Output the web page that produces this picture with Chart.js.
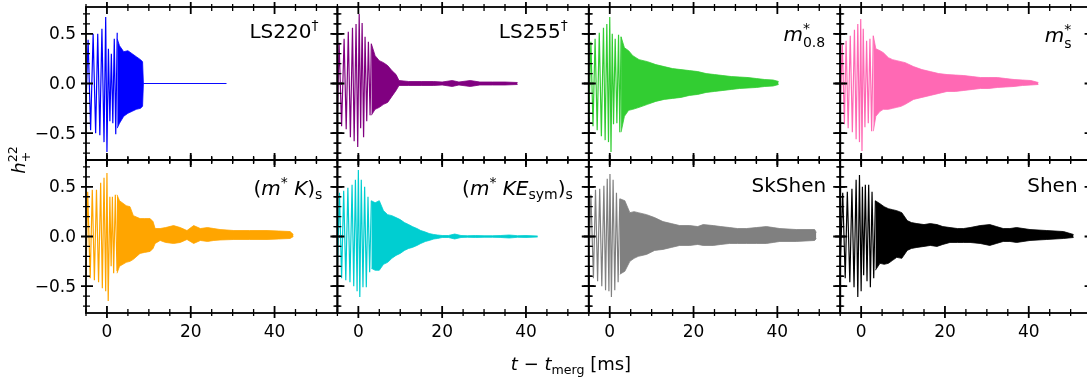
<!DOCTYPE html>
<html>
<head>
<meta charset="utf-8">
<script src="https://cdn.jsdelivr.net/npm/chart.js@4.4.0/dist/chart.umd.min.js"></script>
<style>
  body { margin: 0; background: #fff; }
  #fig { position: relative; width: 1087px; height: 382px; overflow: hidden; background: #fff; }
  #fig canvas { position: absolute; left: 0; top: 0; }
</style>
</head>
<body>
<div id="fig"></div>
<script>
// ---- data (t in ms, strain h) ----
// distinct early cycles (signed peaks) and the envelope of the dense post-merger part

const ls220SpikeT = [-5.0, -4.5, -3.9, -3.3, -2.7, -2.2, -1.7, -1.2, -0.7, -0.3, 0.0, 0.35, 0.7, 1.05, 1.4, 1.75, 2.1, 2.45];
const ls220SpikeH = [-0.20, 0.44, -0.47, 0.50, -0.50, 0.50, -0.52, 0.55, -0.59, 0.67, -0.69, 0.35, -0.38, 0.30, -0.40, 0.45, -0.51, 0.51];
const ls220EnvT  = [2.45, 3.0, 4.0, 5.0, 6.0, 7.0, 8.0, 8.5, 8.7, 28.5];
const ls220EnvHi = [0.45, 0.38, 0.32, 0.33, 0.30, 0.27, 0.24, 0.22, 0.0, 0.0];
const ls220EnvLo = [-0.45, -0.40, -0.33, -0.30, -0.28, -0.26, -0.25, -0.23, 0.0, 0.0];

const ls255SpikeT = [-5.0, -4.6, -4.0, -3.4, -2.9, -2.4, -1.9, -1.4, -1.0, -0.55, -0.15, 0.2, 0.55, 0.9, 1.25, 1.6, 2.0, 2.4, 2.8, 3.1];
const ls255SpikeH = [-0.30, 0.41, -0.43, 0.45, -0.46, 0.52, -0.54, 0.56, -0.58, 0.60, -0.64, 0.70, -0.45, 0.61, -0.54, 0.47, -0.38, 0.42, -0.32, 0.40];
const ls255EnvT  = [3.1, 4.0, 5.0, 6.0, 7.0, 8.0, 9.0, 9.7, 12, 15, 18, 20, 22.4, 24, 26.7, 29, 32, 35, 38];
const ls255EnvHi = [0.40, 0.28, 0.23, 0.21, 0.18, 0.13, 0.09, 0.03, 0.02, 0.02, 0.02, 0.015, 0.03, 0.015, 0.03, 0.015, 0.015, 0.015, 0.01];
const ls255EnvLo = [-0.32, -0.26, -0.24, -0.21, -0.19, -0.13, -0.07, -0.02, -0.02, -0.02, -0.02, -0.015, -0.03, -0.015, -0.03, -0.015, -0.015, -0.015, -0.01];

const m08SpikeT = [-5.0, -4.5, -4.0, -3.5, -3.0, -2.5, -2.0, -1.5, -1.1, -0.7, -0.3, 0.0, 0.3, 0.6, 0.9, 1.3, 1.7, 2.1, 2.4, 2.7];
const m08SpikeH = [-0.35, 0.42, -0.43, 0.45, -0.47, 0.51, -0.53, 0.56, -0.57, 0.60, -0.59, 0.67, -0.69, 0.50, -0.41, 0.45, -0.40, 0.49, -0.49, 0.47];
const m08EnvT  = [2.7, 3.5, 4.5, 5.5, 7, 9, 11, 13, 15, 17, 19, 21, 23, 25, 27, 29, 31, 33, 35, 37, 39, 40.3];
const m08EnvHi = [0.47, 0.36, 0.33, 0.28, 0.24, 0.22, 0.19, 0.17, 0.15, 0.14, 0.13, 0.12, 0.10, 0.09, 0.08, 0.07, 0.065, 0.06, 0.05, 0.04, 0.035, 0.02];
const m08EnvLo = [-0.49, -0.33, -0.27, -0.26, -0.24, -0.21, -0.18, -0.16, -0.15, -0.14, -0.12, -0.11, -0.09, -0.08, -0.07, -0.06, -0.05, -0.045, -0.04, -0.03, -0.025, -0.01];

const msSpikeT = [-5.0, -4.5, -4.0, -3.6, -3.1, -2.6, -2.1, -1.6, -1.2, -0.8, -0.4, -0.1, 0.2, 0.5, 0.9, 1.3, 1.7, 2.1, 2.5, 2.9];
const msSpikeH = [-0.28, 0.40, -0.41, 0.43, -0.45, 0.48, -0.49, 0.54, -0.56, 0.60, -0.59, 0.65, -0.68, 0.55, -0.44, 0.43, -0.40, 0.45, -0.48, 0.48];
const msEnvT  = [2.9, 3.5, 4.5, 5.3, 6.5, 7.5, 8.5, 9.5, 10.5, 12.5, 14.5, 16.5, 18.5, 20.5, 22.5, 24.5, 26.5, 28.5, 30.5, 32.5, 34.5, 36.5, 38.5, 40.5, 42.3];
const msEnvHi = [0.48, 0.35, 0.33, 0.31, 0.26, 0.24, 0.23, 0.22, 0.21, 0.17, 0.14, 0.12, 0.10, 0.09, 0.085, 0.08, 0.07, 0.06, 0.06, 0.06, 0.05, 0.04, 0.035, 0.03, 0.01];
const msEnvLo = [-0.48, -0.33, -0.28, -0.26, -0.26, -0.25, -0.24, -0.23, -0.21, -0.16, -0.14, -0.12, -0.10, -0.08, -0.08, -0.07, -0.06, -0.05, -0.05, -0.04, -0.035, -0.03, -0.02, -0.015, -0.01];

const mkSpikeT = [-5.0, -4.6, -4.0, -3.5, -3.0, -2.5, -2.0, -1.5, -1.1, -0.7, -0.3, 0.0, 0.3, 0.7, 1.0, 1.3, 1.6, 2.0, 2.4];
const mkSpikeH = [-0.40, 0.45, -0.42, 0.47, -0.44, 0.47, -0.46, 0.54, -0.52, 0.59, -0.55, 0.64, -0.65, 0.40, -0.30, 0.40, -0.37, 0.42, -0.35];
const mkEnvT  = [2.4, 3.0, 4.6, 5.5, 6.3, 7.9, 9.0, 10.3, 11.0, 11.5, 12.7, 14.0, 15.9, 17.5, 19.1, 20.7, 22.3, 24.0, 25.5, 27.0, 30.3, 34, 38.2, 41, 43.7, 44.5];
const mkEnvHi = [0.42, 0.36, 0.31, 0.30, 0.21, 0.18, 0.18, 0.18, 0.15, 0.08, 0.08, 0.09, 0.11, 0.09, 0.06, 0.11, 0.08, 0.09, 0.08, 0.07, 0.06, 0.06, 0.06, 0.055, 0.05, 0.02];
const mkEnvLo = [-0.37, -0.30, -0.26, -0.25, -0.23, -0.17, -0.16, -0.15, -0.12, -0.07, -0.04, -0.06, -0.07, -0.06, -0.03, -0.07, -0.04, -0.05, -0.04, -0.035, -0.03, -0.03, -0.03, -0.025, -0.02, 0.0];

const mkeSpikeT = [-5.0, -4.5, -4.0, -3.5, -3.0, -2.5, -2.0, -1.5, -1.1, -0.7, -0.3, 0.0, 0.35, 0.7, 1.1, 1.5, 1.9, 2.3, 2.7, 3.1];
const mkeSpikeH = [-0.30, 0.44, -0.42, 0.46, -0.44, 0.49, -0.46, 0.52, -0.50, 0.57, -0.55, 0.67, -0.61, 0.57, -0.51, 0.50, -0.51, 0.40, -0.36, 0.36];
const mkeEnvT  = [3.1, 4.0, 5.0, 6.0, 7.0, 8.0, 9.0, 10.0, 11.0, 12.0, 12.9, 14.0, 14.9, 16.0, 16.9, 18.0, 18.9, 20.0, 21.5, 23.0, 24.5, 26, 28, 30, 32, 34, 36, 38, 40, 42.8];
const mkeEnvHi = [0.36, 0.34, 0.36, 0.26, 0.22, 0.21, 0.19, 0.17, 0.14, 0.12, 0.10, 0.08, 0.06, 0.045, 0.03, 0.02, 0.015, 0.01, 0.01, 0.025, 0.01, 0.008, 0.01, 0.008, 0.008, 0.01, 0.015, 0.008, 0.01, 0.005];
const mkeEnvLo = [-0.32, -0.34, -0.34, -0.28, -0.26, -0.22, -0.19, -0.17, -0.14, -0.12, -0.11, -0.09, -0.07, -0.05, -0.04, -0.025, -0.02, -0.01, -0.01, -0.025, -0.01, -0.008, -0.01, -0.008, -0.008, -0.01, -0.015, -0.008, -0.01, -0.005];

const skSpikeT = [-5.0, -4.5, -3.9, -3.4, -2.9, -2.4, -1.9, -1.4, -1.0, -0.6, -0.2, 0.05, 0.4, 0.8, 1.2, 1.6, 2.0, 2.4];
const skSpikeH = [-0.30, 0.42, -0.42, 0.47, -0.45, 0.48, -0.50, 0.51, -0.54, 0.58, -0.55, 0.63, -0.61, 0.57, -0.54, 0.44, -0.46, 0.38];
const skEnvT  = [2.4, 3.6, 4.8, 5.8, 6.8, 8.8, 10.7, 12.7, 14.7, 16.7, 19.1, 21, 22.3, 24.7, 26.5, 28.6, 30.5, 32.6, 35, 37.4, 39, 40.6, 44.5, 48.9, 49.3];
const skEnvHi = [0.38, 0.36, 0.24, 0.25, 0.24, 0.22, 0.19, 0.15, 0.13, 0.11, 0.11, 0.10, 0.12, 0.11, 0.10, 0.09, 0.08, 0.08, 0.09, 0.10, 0.09, 0.08, 0.07, 0.07, 0.04];
const skEnvLo = [-0.38, -0.35, -0.25, -0.22, -0.20, -0.18, -0.14, -0.13, -0.11, -0.09, -0.09, -0.08, -0.09, -0.09, -0.08, -0.07, -0.07, -0.07, -0.07, -0.07, -0.06, -0.05, -0.05, -0.04, -0.02];

const shenSpikeT = [-5.0, -4.4, -3.8, -3.3, -2.7, -2.2, -1.7, -1.2, -0.8, -0.4, 0.0, 0.3, 0.6, 1.0, 1.4, 1.8, 2.2, 2.6, 3.0, 3.4];
const shenSpikeH = [-0.30, 0.44, -0.42, 0.45, -0.46, 0.48, -0.51, 0.57, -0.61, 0.62, -0.55, 0.50, -0.39, 0.52, -0.45, 0.52, -0.51, 0.45, -0.42, 0.36];
const shenEnvT  = [3.4, 4.5, 5.5, 6.5, 7.5, 8.5, 9.7, 11, 12, 13.3, 15, 16.5, 18.1, 19.5, 21.2, 23, 24.4, 26, 28.4, 30.7, 32.3, 33.9, 35.5, 37.1, 40.3, 44.3, 48.3, 50.7];
const shenEnvHi = [0.36, 0.33, 0.30, 0.28, 0.27, 0.26, 0.24, 0.16, 0.14, 0.13, 0.12, 0.13, 0.12, 0.10, 0.09, 0.08, 0.08, 0.09, 0.11, 0.12, 0.10, 0.08, 0.08, 0.09, 0.07, 0.06, 0.05, 0.02];
const shenEnvLo = [-0.34, -0.27, -0.28, -0.27, -0.24, -0.21, -0.22, -0.14, -0.12, -0.11, -0.10, -0.09, -0.10, -0.08, -0.06, -0.06, -0.06, -0.06, -0.07, -0.09, -0.07, -0.05, -0.05, -0.06, -0.04, -0.03, -0.02, -0.01];

// axis ticks
const xMajorTicks = [0, 20, 40];
const xMinorTicks = [-5, 5, 10, 15, 25, 30, 35, 45, 50];
const yMajorTicks = [-0.5, 0, 0.5];
const yMinorTicks = [-0.7, -0.6, -0.4, -0.3, -0.2, -0.1, 0.1, 0.2, 0.3, 0.4, 0.6, 0.7];
const yTickLabels = ['\u22120.5', '0.0', '0.5'];
const xTickLabels = ['0', '20', '40'];

// ---- layout ----
const W = 1100, H = 382;
const colLeft = [86, 337.4, 588.8, 840.2];
const panelW = 251.4;
const rowTop = [7, 160];
const panelH = 153;
const FONT = 'DejaVu Sans';

// label pieces: sup = superscript, sub = subscript, under = subscript stacked under previous sup
const panels = [
  { color: '#0000ff', T: ls220SpikeT, Hs: ls220SpikeH, eT: ls220EnvT, hi: ls220EnvHi, lo: ls220EnvLo,
    label: [{t: 'LS220'}, {t: '\u2020', sup: 1}], rm: 19, bl: 31 },
  { color: '#800080', T: ls255SpikeT, Hs: ls255SpikeH, eT: ls255EnvT, hi: ls255EnvHi, lo: ls255EnvLo,
    label: [{t: 'LS255'}, {t: '\u2020', sup: 1}], rm: 21, bl: 31 },
  { color: '#32cd32', T: m08SpikeT, Hs: m08SpikeH, eT: m08EnvT, hi: m08EnvHi, lo: m08EnvLo,
    label: [{t: 'm', it: 1}, {t: '*', sup: 1}, {t: '0.8', under: 1}], rm: 15, bl: 34 },
  { color: '#ff69b4', T: msSpikeT, Hs: msSpikeH, eT: msEnvT, hi: msEnvHi, lo: msEnvLo,
    label: [{t: 'm', it: 1}, {t: '*', sup: 1}, {t: 's', under: 1}], rm: 20, bl: 35 },
  { color: '#ffa500', T: mkSpikeT, Hs: mkSpikeH, eT: mkEnvT, hi: mkEnvHi, lo: mkEnvLo,
    label: [{t: '('}, {t: 'm', it: 1}, {t: '*', sup: 1}, {t: ' K', it: 1}, {t: ')'}, {t: 's', sub: 1}], rm: 15, bl: 35 },
  { color: '#00ced1', T: mkeSpikeT, Hs: mkeSpikeH, eT: mkeEnvT, hi: mkeEnvHi, lo: mkeEnvLo,
    label: [{t: '('}, {t: 'm', it: 1}, {t: '*', sup: 1}, {t: ' K', it: 1}, {t: 'E', it: 1}, {t: 'sym', sub: 1}, {t: ')'}, {t: 's', sub: 1}], rm: 16, bl: 35 },
  { color: '#808080', T: skSpikeT, Hs: skSpikeH, eT: skEnvT, hi: skEnvHi, lo: skEnvLo,
    label: [{t: 'SkShen'}], rm: 14, bl: 32 },
  { color: '#000000', T: shenSpikeT, Hs: shenSpikeH, eT: shenEnvT, hi: shenEnvHi, lo: shenEnvLo,
    label: [{t: 'Shen'}], rm: 14, bl: 32 }
];

// draw a small piece of math-like text; align 'right' | 'center' | 'left'
function drawRich(ctx, parts, x, base, size, align) {
  const items = [];
  let cur = 0;
  parts.forEach(p => {
    const small = p.sup || p.sub || p.under;
    const fs = small ? size * 0.7 : size;
    const font = (p.it ? 'italic ' : '') + fs + 'px "' + FONT + '"';
    ctx.font = font;
    const w = ctx.measureText(p.t).width;
    let dy = 0;
    if (p.sup) dy = -0.42 * size;
    if (p.sub) dy = 0.22 * size;
    if (p.under) dy = 0.3 * size;
    let px;
    if (p.under && items.length) {
      const prev = items[items.length - 1];
      px = prev.x;
      cur = prev.x + Math.max(prev.w, w);
    } else {
      px = cur;
      cur += w;
    }
    items.push({ t: p.t, font, x: px, w, dy });
  });
  let x0 = x;
  if (align === 'right') x0 = x - cur;
  if (align === 'center') x0 = x - cur / 2;
  ctx.textAlign = 'left';
  ctx.textBaseline = 'alphabetic';
  items.forEach(it => {
    ctx.font = it.font;
    ctx.fillText(it.t, x0 + it.x, base + it.dy);
  });
}

const framePlugin = {
  id: 'frame',
  afterDraw(chart) {
    const { ctx, chartArea: a, scales: { x, y } } = chart;
    const o = chart.options.plugins.frame;
    ctx.save();
    ctx.strokeStyle = '#000';
    ctx.fillStyle = '#000';

    const drawTicks = (vals, inL, outL, lw) => {
      ctx.lineWidth = lw;
      ctx.beginPath();
      vals.forEach(v => {
        const px = x.getPixelForValue(v);
        ctx.moveTo(px, a.bottom + outL); ctx.lineTo(px, a.bottom - inL);
        ctx.moveTo(px, a.top - outL); ctx.lineTo(px, a.top + inL);
      });
      ctx.stroke();
    };
    const drawYTicks = (vals, inL, outL, lw) => {
      ctx.lineWidth = lw;
      ctx.beginPath();
      vals.forEach(v => {
        const py = y.getPixelForValue(v);
        ctx.moveTo(a.left - outL, py); ctx.lineTo(a.left + inL, py);
        ctx.moveTo(a.right + outL, py); ctx.lineTo(a.right - inL, py);
      });
      ctx.stroke();
    };
    drawTicks(xMajorTicks, 7, 5, 1.8);
    drawTicks(xMinorTicks, 4, 3, 1.3);
    drawYTicks(yMajorTicks, 7, 5, 1.8);
    drawYTicks(yMinorTicks, 4, 3, 1.3);

    ctx.lineWidth = 1.8;
    ctx.strokeRect(a.left, a.top, a.right - a.left, a.bottom - a.top);

    // tick labels
    ctx.font = '17px "' + FONT + '"';
    if (o.col === 0) {
      ctx.textAlign = 'right';
      ctx.textBaseline = 'middle';
      yMajorTicks.forEach((v, i) => ctx.fillText(yTickLabels[i], a.left - 10, y.getPixelForValue(v) + 1));
    }
    if (o.row === 1) {
      ctx.textAlign = 'center';
      ctx.textBaseline = 'middle';
      xMajorTicks.forEach((v, i) => ctx.fillText(xTickLabels[i], x.getPixelForValue(v), a.bottom + 20));
    }

    // panel label
    drawRich(ctx, o.label, a.right - o.rm, a.top + o.bl, 20, 'right');

    // figure-level axis titles
    if (o.titles) {
      drawRich(ctx, [{t: 't', it: 1}, {t: ' \u2212 '}, {t: 't', it: 1}, {t: 'merg', sub: 1}, {t: ' [ms]'}], 571, 370, 18, 'center');
      ctx.save();
      ctx.translate(25, 160);
      ctx.rotate(-Math.PI / 2);
      drawRich(ctx, [{t: 'h', it: 1}, {t: '22', sup: 1}, {t: '+', under: 1}], 0, 0, 18, 'center');
      ctx.restore();
    }
    ctx.restore();
  }
};

const fig = document.getElementById('fig');
panels.forEach((p, k) => {
  const col = k % 4, row = Math.floor(k / 4);
  const cv = document.createElement('canvas');
  cv.width = W; cv.height = H;
  cv.style.width = W + 'px'; cv.style.height = H + 'px';
  fig.appendChild(cv);

  const left = colLeft[col], top = rowTop[row];
  new Chart(cv, {
    type: 'line',
    data: {
      datasets: [
        {
          data: p.T.map((t, i) => ({ x: t, y: p.Hs[i] })),
          borderColor: p.color, borderWidth: 1.2, pointRadius: 0, tension: 0, fill: false
        },
        {
          data: p.eT.map((t, i) => ({ x: t, y: p.hi[i] })),
          borderColor: p.color, borderWidth: 0.8, pointRadius: 0, tension: 0, fill: false
        },
        {
          data: p.eT.map((t, i) => ({ x: t, y: p.lo[i] })),
          borderColor: p.color, borderWidth: 0.8, pointRadius: 0, tension: 0,
          fill: '-1', backgroundColor: p.color
        }
      ]
    },
    options: {
      responsive: false,
      animation: false,
      events: [],
      devicePixelRatio: 1,
      layout: {
        padding: { left: left, top: top, right: W - left - panelW, bottom: H - top - panelH }
      },
      scales: {
        x: { type: 'linear', min: -5, max: 55, display: false },
        y: { type: 'linear', min: -0.77, max: 0.77, display: false }
      },
      plugins: {
        legend: { display: false },
        tooltip: { enabled: false },
        frame: { col: col, row: row, label: p.label, rm: p.rm, bl: p.bl, titles: k === 7 }
      }
    },
    plugins: [framePlugin]
  });
});
</script>
</body>
</html>
